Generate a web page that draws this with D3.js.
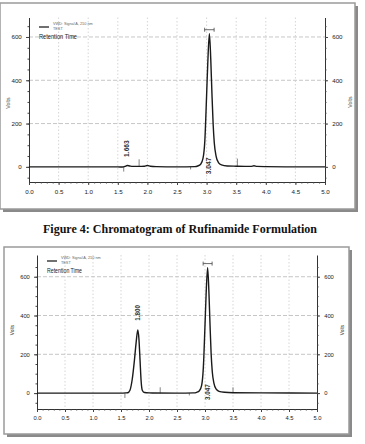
<!DOCTYPE html>
<html><head><meta charset="utf-8">
<script src="https://cdn.jsdelivr.net/npm/d3@7"></script>
<style>body{margin:0;background:#fff}svg{display:block}</style>
</head><body>
<script>
// ---- data ----
const xTickValues = [0,0.5,1,1.5,2,2.5,3,3.5,4,4.5,5];
const xTickLabels = ["0.0","0.5","1.0","1.5","2.0","2.5","3.0","3.5","4.0","4.5","5.0"];
const yTickValues = [0,200,400,600];
const yTickLabels = ["0","200","400","600"];
const legendSignal = "VWD: Signal A, 210 nm";
const legendSample = "TEST";
const legendTitle = "Retention Time";
const axisTitle = "Volts";
const caption = "Figure 4: Chromatogram of Rufinamide Formulation";

const topTime   = [0,0.8,1.5,1.58,1.62,1.66,1.70,1.75,1.85,1.95,2.0,2.05,2.15,2.5,2.8,2.85,2.90,2.94,2.97,3.00,3.02,3.047,3.07,3.09,3.11,3.13,3.16,3.20,3.25,3.35,3.5,3.75,3.8,3.85,4.0,4.5,5.0];
const topSignal = [0,0,0,-1,2,6,4,2,2,3,6,3,1,0,1,4,12,40,120,330,480,615,500,340,200,110,50,20,9,4,3,2,5,2,1,0,0];
const topPeakTimes  = [1.663,3.047];
const topPeakLabels = ["1.663","3.047"];
const topMarkerTimes   = [1.60,1.86,2.73,3.52];
const topMarkerHeights = [-22,35,-12,38];

const botTime   = [0,1.0,1.5,1.58,1.62,1.66,1.70,1.74,1.77,1.80,1.82,1.84,1.86,1.88,1.92,2.0,2.5,2.8,2.85,2.90,2.94,2.97,3.00,3.02,3.047,3.07,3.09,3.11,3.13,3.16,3.20,3.25,3.35,3.5,4.0,5.0];
const botSignal = [0,0,0,1,2,15,70,170,260,326,280,170,60,15,3,1,0,1,4,12,40,130,350,510,647,520,350,200,110,50,20,9,4,2,1,0];
const botPeakTimes  = [1.800,3.047];
const botPeakLabels = ["1.800","3.047"];
const botMarkerTimes   = [1.57,2.20,2.72,3.50];
const botMarkerHeights = [-25,30,-12,30];

// ---- drawing ----
const W = 365, H = 444;
const SANS = "'Liberation Sans', Arial, sans-serif";
const NARROW = "'Liberation Sans Narrow', 'Liberation Sans', Arial, sans-serif";
const svg = d3.select("body").append("svg").attr("width", W).attr("height", H)
  .style("font-family", SANS);

function frame(x0, y0, x1, y1) {
  svg.append("rect").attr("x", x0 + 3).attr("y", y0 + 3).attr("width", x1 - x0).attr("height", y1 - y0)
    .attr("fill", "#8a8a8a");
  svg.append("rect").attr("x", x0).attr("y", y0).attr("width", x1 - x0).attr("height", y1 - y0)
    .attr("fill", "#fff").attr("stroke", "#9a9a9a").attr("stroke-width", 1.5);
}

function chart(cfg) {
  const x = d3.scaleLinear().domain([0, 5]).range([cfg.x0, cfg.x1]);
  const y = d3.scaleLinear().domain(cfg.yDomain).range([cfg.yBottom, cfg.yTop]);
  const g = svg.append("g");
  const fs = cfg.fs;

  // grid
  g.selectAll(".hg").data(yTickValues.filter(v => v > 0)).join("line")
    .attr("x1", cfg.x0).attr("x2", cfg.x1).attr("y1", d => y(d)).attr("y2", d => y(d))
    .attr("stroke", "#b8b8b8").attr("stroke-width", 0.8).attr("stroke-dasharray", "4,2");
  g.selectAll(".vg").data(xTickValues.filter(v => v > 0 && v < 5)).join("line")
    .attr("x1", d => x(d)).attr("x2", d => x(d)).attr("y1", cfg.yTop).attr("y2", cfg.yBottom)
    .attr("stroke", "#c4c4c4").attr("stroke-width", 0.7).attr("stroke-dasharray", "1.5,2");

  // axes
  const xAxis = d3.axisBottom(x).tickValues(xTickValues).tickFormat((d, i) => xTickLabels[i]).tickSize(3).tickSizeOuter(0);
  const gx = g.append("g").attr("transform", `translate(0,${cfg.yBottom})`).call(xAxis);
  const xMinor = d3.axisBottom(x).tickValues(d3.range(0, 50).map(i => i / 10)).tickFormat("").tickSize(1.5).tickSizeOuter(0);
  g.append("g").attr("transform", `translate(0,${cfg.yBottom})`).call(xMinor).select(".domain").remove();

  const yAxisL = d3.axisLeft(y).tickValues(yTickValues).tickFormat((d, i) => yTickLabels[i]).tickSize(3).tickSizeOuter(0);
  const gyl = g.append("g").attr("transform", `translate(${cfg.x0},0)`).call(yAxisL);
  const yAxisR = d3.axisRight(y).tickValues(yTickValues).tickFormat((d, i) => yTickLabels[i]).tickSize(3).tickSizeOuter(0);
  const gyr = g.append("g").attr("transform", `translate(${cfg.x1},0)`).call(yAxisR);
  const minorY = d3.range(-50, 700, 50).filter(v => v >= cfg.yDomain[0] && v <= cfg.yDomain[1]);
  g.append("g").attr("transform", `translate(${cfg.x0},0)`).call(d3.axisLeft(y).tickValues(minorY).tickFormat("").tickSize(1.5)).select(".domain").remove();
  g.append("g").attr("transform", `translate(${cfg.x1},0)`).call(d3.axisRight(y).tickValues(minorY).tickFormat("").tickSize(1.5)).select(".domain").remove();

  [gx, gyl, gyr].forEach(a => {
    a.select(".domain").attr("stroke", "#333").attr("stroke-width", 1);
    a.selectAll(".tick text").attr("font-size", fs).attr("fill", "#222").attr("font-family", NARROW);
  });
  g.selectAll(".tick line").attr("stroke", "#444");
  gx.selectAll(".tick text").attr("dy", "0.9em");
  gyl.selectAll(".tick text").attr("dx", "-0.2em");
  gyr.selectAll(".tick text").attr("dx", "0.2em");

  // axis titles
  g.append("text").attr("transform", `translate(${cfg.titleL[0]},${cfg.titleL[1]}) rotate(-90)`)
    .attr("text-anchor", "middle").attr("font-size", fs - 1).attr("fill", "#444").attr("font-family", SANS).text(axisTitle);
  g.append("text").attr("transform", `translate(${cfg.titleR[0]},${cfg.titleR[1]}) rotate(-90)`)
    .attr("text-anchor", "middle").attr("font-size", fs - 1).attr("fill", "#444").attr("font-family", SANS).text(axisTitle);

  // event markers
  cfg.markerTimes.forEach((t, i) => {
    g.append("line").attr("x1", x(t)).attr("x2", x(t)).attr("y1", y(0)).attr("y2", y(cfg.markerHeights[i]))
      .attr("stroke", "#666").attr("stroke-width", 0.8);
  });

  // trace
  const line = d3.line().x((d, i) => x(cfg.time[i])).y(d => y(d)).curve(d3.curveMonotoneX);
  g.append("path").datum(cfg.signal).attr("d", line).attr("fill", "none")
    .attr("stroke", "#1a1a1a").attr("stroke-width", 1.4);

  // peak labels
  cfg.peakTimes.forEach((t, i) => {
    const idx = d3.minIndex(cfg.time, tt => Math.abs(tt - t));
    const val = cfg.signal[idx];
    const big = val > 400;
    let px, py;
    if (big) { px = x(t) + 2; py = y(0) - 1; }
    else { px = x(t) + 2; py = y(val) - 17; }
    g.append("text").attr("transform", `translate(${px},${py}) rotate(-90)`)
      .attr("text-anchor", "middle").attr("font-size", fs + 0.5).attr("font-weight", "bold").attr("fill", "#333")
      .attr("font-family", SANS).text(cfg.peakLabels[i]);
    if (big) {
      const by = y(val) - 4;
      const xl = x(t - 0.08), xr = x(t + 0.08);
      g.append("path").attr("d", `M${xl},${by}H${xr}M${xl},${by - 2}V${by + 2}M${xr},${by - 2}V${by + 2}`)
        .attr("stroke", "#444").attr("stroke-width", 0.8).attr("fill", "none");
    }
  });

  // legend
  const [lx, ly] = cfg.legend;
  g.append("line").attr("x1", lx).attr("x2", lx + 10).attr("y1", ly).attr("y2", ly).attr("stroke", "#111").attr("stroke-width", 1.2);
  g.append("text").attr("x", lx + 14).attr("y", ly - 2).attr("font-size", 3.8).attr("fill", "#666").attr("font-family", SANS).text(legendSignal);
  g.append("text").attr("x", lx + 14).attr("y", ly + 2.5).attr("font-size", 3.8).attr("fill", "#666").attr("font-family", SANS).text(legendSample);
  g.append("text").attr("x", lx).attr("y", ly + 12).attr("font-size", 7.5).attr("fill", "#222").attr("font-family", SANS)
    .attr("textLength", cfg.legendW).attr("lengthAdjust", "spacingAndGlyphs").text(legendTitle);
}

// top chart
frame(0, 3, 355, 209);
chart({x0: 29, x1: 325, yDomain: [-70, 690], yBottom: 182, yTop: 17.5, fs: 6.2,
  time: topTime, signal: topSignal, peakTimes: topPeakTimes, peakLabels: topPeakLabels,
  markerTimes: topMarkerTimes, markerHeights: topMarkerHeights,
  titleL: [10, 103], titleR: [352, 102], legend: [39, 27], legendW: 38});

// caption
svg.append("text").attr("x", 180).attr("y", 233).attr("text-anchor", "middle")
  .attr("font-family", "'Liberation Serif', 'Times New Roman', serif").attr("font-weight", "bold")
  .attr("font-size", 12).attr("fill", "#111")
  .attr("textLength", 274).attr("lengthAdjust", "spacingAndGlyphs").text(caption);

// bottom chart
frame(4, 247, 349, 434);
chart({x0: 37, x1: 317, yDomain: [-82, 712], yBottom: 409, yTop: 255, fs: 5.8,
  time: botTime, signal: botSignal, peakTimes: botPeakTimes, peakLabels: botPeakLabels,
  markerTimes: botMarkerTimes, markerHeights: botMarkerHeights,
  titleL: [14, 330], titleR: [344, 330], legend: [47, 261], legendW: 35});
</script>
</body></html>
